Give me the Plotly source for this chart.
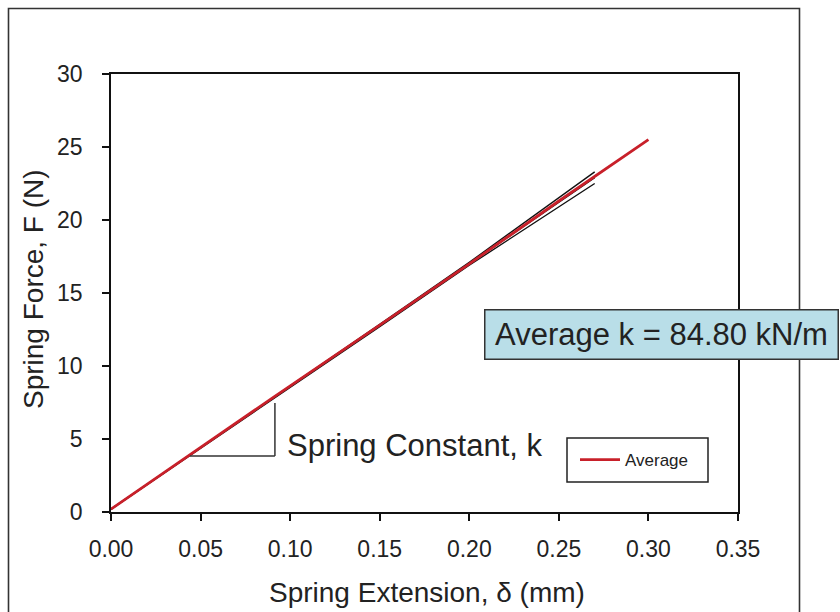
import plotly.graph_objects as go

# ---- data ----
spec_x = [0.0, 0.05, 0.10, 0.15, 0.20, 0.27]
spec_a_y = [0.2, 4.4, 8.6, 12.85, 17.1, 23.3]
spec_b_y = [0.2, 4.4, 8.6, 12.8, 17.0, 22.9]
spec_c_y = [0.2, 4.35, 8.55, 12.7, 16.9, 22.5]

avg_x = [0.0, 0.045, 0.09, 0.15, 0.20, 0.25, 0.30]
avg_y = [0.2, 4.0, 7.8, 12.8, 17.0, 21.3, 25.5]

x_ticks = [0.00, 0.05, 0.10, 0.15, 0.20, 0.25, 0.30, 0.35]
y_ticks = [0, 5, 10, 15, 20, 25, 30]

# slope triangle (data coordinates)
tri_x = [0.0441, 0.0915]
tri_y = [3.84, 7.47]

FONT = "Liberation Sans, Arial, sans-serif"
TXT = "#222222"
RED = "#c8202a"

fig = go.Figure()
for ys in (spec_a_y, spec_b_y, spec_c_y):
    fig.add_trace(go.Scatter(x=spec_x, y=ys, mode="lines",
                             line=dict(color="#111111", width=1.4),
                             showlegend=False, hoverinfo="skip"))
fig.add_trace(go.Scatter(x=avg_x, y=avg_y, mode="lines", name="Average",
                         line=dict(color=RED, width=2.8)))

L, R, T, B = 111, 102, 74, 100
W, H = 840 - L - R, 612 - T - B

def px_x(p):
    return (p - L) / W

def px_y(p):
    return (612 - B - p) / H

shapes = [
    # outer frame
    dict(type="rect", xref="paper", yref="paper",
         x0=px_x(8.5), x1=px_x(799.5), y0=px_y(640), y1=px_y(8.5),
         line=dict(color="#333333", width=1.6), fillcolor="rgba(0,0,0,0)", layer="below"),
    # slope triangle
    dict(type="line", xref="x", yref="y", x0=tri_x[0], x1=tri_x[1], y0=tri_y[0], y1=tri_y[0],
         line=dict(color="#333333", width=1.5)),
    dict(type="line", xref="x", yref="y", x0=tri_x[1], x1=tri_x[1], y0=tri_y[0], y1=tri_y[1],
         line=dict(color="#333333", width=1.5)),
    # legend frame
    dict(type="rect", xref="paper", yref="paper",
         x0=px_x(567), x1=px_x(708), y0=px_y(482), y1=px_y(438),
         line=dict(color="#222222", width=1.5), fillcolor="white", layer="below"),
]

annotations = [
    dict(xref="paper", yref="paper", x=px_x(661.5), y=px_y(334.5),
         xanchor="center", yanchor="middle", showarrow=False,
         text="Average k = 84.80 kN/m", font=dict(family=FONT, size=31, color=TXT),
         bgcolor="#b9dee8", bordercolor="#333333", borderwidth=1.5,
         width=352, height=48, borderpad=0),
    dict(xref="paper", yref="paper", x=px_x(285), y=px_y(445),
         xanchor="left", yanchor="middle", showarrow=False,
         text="Spring Constant, k", font=dict(family=FONT, size=31, color=TXT)),
    dict(xref="paper", yref="paper", x=px_x(427), y=px_y(592),
         xanchor="center", yanchor="middle", showarrow=False,
         text="Spring Extension, δ (mm)", font=dict(family=FONT, size=28, color=TXT)),
    dict(xref="paper", yref="paper", x=px_x(33), y=px_y(289),
         xanchor="center", yanchor="middle", showarrow=False, textangle=-90,
         text="Spring Force, F (N)", font=dict(family=FONT, size=28, color=TXT)),
]

fig.update_layout(
    width=840, height=612,
    margin=dict(l=L, r=R, t=T, b=B, autoexpand=False),
    paper_bgcolor="white", plot_bgcolor="white",
    font=dict(family=FONT, color=TXT),
    shapes=shapes, annotations=annotations,
    showlegend=True,
    legend=dict(x=px_x(575), y=px_y(460), xanchor="left", yanchor="middle",
                bgcolor="rgba(0,0,0,0)", borderwidth=0, itemwidth=40,
                font=dict(family=FONT, size=17, color=TXT)),
    xaxis=dict(range=[0, 0.35], tickvals=x_ticks, tickformat=".2f",
               showline=True, linecolor="#111111", linewidth=1.5, mirror=True,
               ticks="outside", ticklen=7, tickcolor="#111111", tickwidth=1.5,
               showgrid=False, zeroline=False, ticklabelstandoff=9,
               tickfont=dict(family=FONT, size=23, color=TXT)),
    yaxis=dict(range=[0, 30], tickvals=y_ticks,
               showline=True, linecolor="#111111", linewidth=1.5, mirror=True,
               ticks="outside", ticklen=7, tickcolor="#111111", tickwidth=1.5,
               showgrid=False, zeroline=False, ticklabelstandoff=15,
               tickfont=dict(family=FONT, size=23, color=TXT)),
)

fig.write_html("out.html")
